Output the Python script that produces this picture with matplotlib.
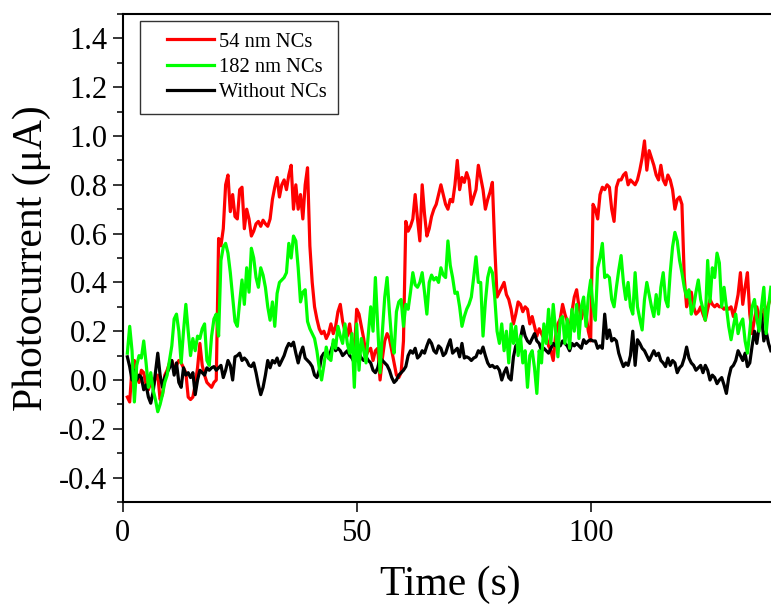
import matplotlib
matplotlib.use("Agg")
import matplotlib.pyplot as plt
from matplotlib.legend_handler import HandlerLine2D
from matplotlib.lines import Line2D
from matplotlib.ticker import MultipleLocator
import numpy as np

# time axis: one reading every 0.5 s from 1 s to 138.5 s
T_START = 1.0
T_STEP = 0.5

RED_54NM = [
    -0.07, -0.09, 0.05, 0.08, 0.02, -0.01, 0.04, 0.03, -0.02, -0.04,
    -0.01, -0.03, 0.01, 0.02, -0.08, -0.06, 0.02, 0.04, 0.07, 0.08,
    0.05, 0.06, 0.08, 0.07, 0.05, 0.03, -0.07, -0.08, -0.07, -0.02,
    0.05, 0.15, 0.06, 0.02, -0.01, -0.02, -0.03, -0.01, 0.00, 0.58,
    0.55, 0.62, 0.80, 0.84, 0.69, 0.76, 0.67, 0.66, 0.78, 0.79,
    0.62, 0.70, 0.66, 0.59, 0.61, 0.64, 0.65, 0.63, 0.655, 0.64,
    0.63, 0.66, 0.74, 0.79, 0.83, 0.75, 0.80, 0.82, 0.78, 0.84,
    0.88, 0.70, 0.80, 0.70, 0.76, 0.66, 0.80, 0.87, 0.55, 0.40,
    0.30, 0.25, 0.21, 0.19, 0.20, 0.17, 0.19, 0.23, 0.19, 0.22,
    0.28, 0.31, 0.24, 0.20, 0.18, 0.23, 0.16, 0.11, 0.29, 0.27,
    0.22, 0.17, 0.10, 0.12, 0.13, 0.08, 0.12, 0.13, 0.00, 0.09,
    0.16, 0.19, 0.17, 0.12, 0.07, 0.02, 0.01, 0.03, 0.16, 0.65,
    0.61, 0.63, 0.66, 0.76, 0.66, 0.57, 0.80, 0.68, 0.59, 0.62,
    0.67, 0.70, 0.72, 0.76, 0.80, 0.76, 0.72, 0.70, 0.74, 0.73,
    0.80, 0.90, 0.78, 0.83, 0.81, 0.85, 0.82, 0.72, 0.75, 0.78,
    0.88, 0.83, 0.78, 0.70, 0.74, 0.77, 0.81, 0.55, 0.34, 0.36,
    0.38, 0.40, 0.35, 0.33, 0.29, 0.23, 0.27, 0.32, 0.31, 0.28,
    0.30, 0.29, 0.23, 0.26, 0.22, 0.18, 0.21, 0.19, 0.17, 0.18,
    0.14, 0.12, 0.08, 0.18, 0.23, 0.25, 0.31, 0.27, 0.24, 0.20,
    0.28, 0.34, 0.37, 0.30, 0.25, 0.29, 0.27, 0.20, 0.16, 0.72,
    0.70, 0.66, 0.76, 0.79, 0.78, 0.80, 0.79, 0.70, 0.65, 0.79,
    0.82, 0.82, 0.84, 0.85, 0.80, 0.82, 0.81, 0.80, 0.82, 0.86,
    0.91, 0.98, 0.86, 0.94, 0.91, 0.88, 0.84, 0.82, 0.88, 0.82,
    0.80, 0.84, 0.82, 0.78, 0.70, 0.74, 0.75, 0.72, 0.42, 0.30,
    0.34, 0.36, 0.30, 0.27, 0.28, 0.30, 0.27, 0.245, 0.29, 0.33,
    0.31, 0.30, 0.31, 0.30, 0.30, 0.29, 0.30, 0.29, 0.30, 0.26,
    0.30, 0.35, 0.44, 0.31, 0.38, 0.44, 0.27, 0.19, 0.25, 0.30,
    0.26, 0.23, 0.29, 0.28, 0.31, 0.34,
]

GREEN_182NM = [
    0.11, 0.22, 0.12, -0.09, 0.06, 0.10, 0.09, 0.16, 0.07, -0.03,
    0.03, -0.04, -0.08, -0.13, -0.10, -0.06, -0.01, 0.02, 0.08, 0.14,
    0.25, 0.27, 0.20, 0.07, 0.20, 0.31, 0.20, 0.10, 0.17, 0.12,
    0.18, 0.17, 0.21, 0.23, 0.08, 0.06, 0.18, 0.25, 0.27, 0.18,
    0.49, 0.545, 0.56, 0.52, 0.44, 0.34, 0.24, 0.22, 0.32, 0.41,
    0.31, 0.46, 0.36, 0.54, 0.50, 0.42, 0.38, 0.46, 0.43, 0.38,
    0.30, 0.245, 0.32, 0.22, 0.355, 0.40, 0.41, 0.42, 0.44, 0.56,
    0.50, 0.59, 0.57, 0.46, 0.32, 0.36, 0.37, 0.24, 0.21, 0.19,
    0.17, 0.12, 0.05, 0.00, 0.06, 0.135, 0.09, 0.08, 0.165, 0.13,
    0.22, 0.18, 0.15, 0.23, 0.15, 0.11, 0.19, -0.03, 0.23, 0.04,
    0.17, 0.12, 0.07, 0.19, 0.30, 0.20, 0.42, 0.22, 0.03, 0.20,
    0.34, 0.42, 0.28, 0.16, 0.11, 0.28, 0.32, 0.33, 0.22, 0.31,
    0.29, 0.36, 0.44, 0.39, 0.38, 0.40, 0.44, 0.36, 0.27, 0.40,
    0.43, 0.41, 0.42, 0.40, 0.46, 0.43, 0.42, 0.57, 0.47, 0.42,
    0.355, 0.36, 0.30, 0.22, 0.26, 0.29, 0.31, 0.34, 0.42, 0.505,
    0.40, 0.40, 0.18, 0.32, 0.42, 0.46, 0.44, 0.34, 0.20, 0.15,
    0.23, 0.12, 0.20, 0.07, 0.23, 0.15, 0.22, 0.10, 0.18, 0.07,
    0.12, -0.03, 0.10, 0.12, 0.05, -0.055, 0.12, 0.07, 0.23, 0.15,
    0.29, 0.15, 0.31, 0.20, 0.095, 0.25, 0.26, 0.15, 0.25, 0.13,
    0.29, 0.20, 0.31, 0.17, 0.30, 0.34, 0.22, 0.34, 0.41, 0.30,
    0.245, 0.46, 0.50, 0.56, 0.42, 0.43, 0.42, 0.33, 0.30, 0.38,
    0.45, 0.51, 0.40, 0.33, 0.40, 0.30, 0.27, 0.44, 0.30, 0.25,
    0.205, 0.33, 0.40, 0.35, 0.30, 0.26, 0.35, 0.27, 0.38, 0.44,
    0.33, 0.30, 0.44, 0.545, 0.605, 0.57, 0.49, 0.44, 0.38, 0.34,
    0.37, 0.27, 0.30, 0.36, 0.41, 0.33, 0.29, 0.245, 0.49, 0.32,
    0.46, 0.42, 0.52, 0.48, 0.30, 0.38, 0.30, 0.22, 0.165, 0.22,
    0.27, 0.19, 0.23, 0.25, 0.16, 0.11, 0.20, 0.30, 0.33, 0.25,
    0.20, 0.30, 0.38, 0.19, 0.30, 0.38,
]

BLACK_BARE = [
    0.095, 0.055, 0.00, 0.04, 0.00, 0.02, 0.01, -0.04, -0.02, -0.07,
    -0.095, -0.05, 0.03, 0.11, 0.02, -0.03, 0.01, 0.03, 0.05, 0.08,
    0.02, 0.07, -0.01, -0.03, 0.05, 0.02, 0.03, 0.01, 0.03, -0.06,
    0.00, 0.04, 0.03, 0.02, 0.05, 0.04, 0.05, 0.055, 0.04, 0.05,
    0.06, 0.01, 0.04, 0.08, 0.06, 0.00, 0.095, 0.10, 0.11, 0.08,
    0.09, 0.08, 0.06, 0.055, 0.07, 0.03, -0.02, -0.06, -0.03, 0.02,
    0.08, 0.05, 0.08, 0.07, 0.09, 0.06, 0.08, 0.10, 0.13, 0.15,
    0.14, 0.155, 0.11, 0.07, 0.11, 0.135, 0.09, 0.08, 0.07, 0.055,
    0.02, 0.01, 0.04, 0.095, 0.11, 0.11, 0.09, 0.12, 0.15, 0.12,
    0.13, 0.12, 0.10, 0.11, 0.12, 0.10, 0.09, 0.07, 0.10, 0.11,
    0.09, 0.08, 0.095, 0.08, 0.07, 0.04, 0.03, 0.05, 0.09, 0.08,
    0.07, 0.06, 0.04, 0.01, -0.01, 0.00, 0.02, 0.03, 0.04, 0.055,
    0.10, 0.12, 0.11, 0.13, 0.09, 0.10, 0.12, 0.11, 0.14, 0.165,
    0.15, 0.12, 0.11, 0.14, 0.13, 0.10, 0.11, 0.14, 0.165, 0.11,
    0.12, 0.13, 0.095, 0.15, 0.09, 0.095, 0.09, 0.08, 0.09, 0.095,
    0.12, 0.11, 0.135, 0.10, 0.07, 0.055, 0.06, 0.05, 0.055, 0.04,
    0.00, 0.03, 0.05, 0.01, 0.00, 0.095, 0.14, 0.15, 0.17, 0.22,
    0.18, 0.16, 0.15, 0.17, 0.19, 0.16, 0.15, 0.12, 0.13, 0.12,
    0.11, 0.13, 0.15, 0.14, 0.15, 0.14, 0.16, 0.15, 0.14, 0.12,
    0.15, 0.14, 0.15, 0.14, 0.13, 0.165, 0.15, 0.16, 0.165, 0.16,
    0.16, 0.13, 0.14, 0.13, 0.27, 0.17, 0.205, 0.16, 0.17, 0.16,
    0.11, 0.08, 0.055, 0.07, 0.06, 0.10, 0.20, 0.06, 0.165, 0.15,
    0.13, 0.12, 0.10, 0.08, 0.10, 0.12, 0.10, 0.11, 0.08, 0.07,
    0.055, 0.09, 0.06, 0.08, 0.07, 0.03, 0.05, 0.06, 0.09, 0.135,
    0.09, 0.07, 0.06, 0.04, 0.05, 0.06, 0.03, 0.06, 0.04, 0.00,
    0.02, 0.01, -0.015, 0.00, 0.01, -0.02, -0.055, 0.01, 0.05, 0.06,
    0.08, 0.12, 0.10, 0.08, 0.11, 0.055, 0.07, 0.14, 0.20, 0.15,
    0.22, 0.27, 0.16, 0.20, 0.15, 0.12,
]

SERIES = [
    ("54 nm NCs", RED_54NM, "#ff0000"),
    ("182 nm NCs", GREEN_182NM, "#00ff00"),
    ("Without NCs", BLACK_BARE, "#000000"),
]
DRAW_ORDER = [0, 2, 1]  # green ends up on top

LINE_W = 2.3
FONT = ["Liberation Serif", "DejaVu Serif"]


class LeadLine(HandlerLine2D):
    """Legend line that leaves some blank space before the stroke."""

    def __init__(self, lead_em, **kw):
        super().__init__(**kw)
        self.lead_em = lead_em

    def create_artists(self, legend, orig_handle, xdescent, ydescent, width, height, fontsize, trans):
        artists = super().create_artists(legend, orig_handle, xdescent, ydescent, width, height, fontsize, trans)
        line = artists[0]
        xd = np.asarray(line.get_xdata(), dtype=float)
        xd[0] = xd[0] + self.lead_em * fontsize
        line.set_xdata(xd)
        return artists


def main() -> None:
    plt.rcParams["font.family"] = FONT
    plt.rcParams["axes.unicode_minus"] = False

    n = len(RED_54NM)
    time_s = T_START + T_STEP * np.arange(n)

    fig = plt.figure(figsize=(7.71, 6.06), dpi=100)
    ax = fig.add_axes([0.1591, 0.1716, 0.8498, 0.8053])

    for idx in DRAW_ORDER:
        label, values, color = SERIES[idx]
        ax.plot(time_s[: len(values)], values, color=color, linewidth=LINE_W)

    ax.set_xlim(0, 140)
    ax.set_ylim(-0.5, 1.5)
    ax.set_xticks([0, 50, 100])
    yticks = np.round(np.arange(-0.4, 1.41, 0.2), 1)
    ax.set_yticks(yticks)
    ax.set_yticklabels([f"{v:.1f}" for v in yticks])
    ax.yaxis.set_minor_locator(MultipleLocator(0.1))

    ax.tick_params(axis="both", which="major", direction="out", length=7, width=1.1,
                   labelsize=22, colors="black")
    ax.tick_params(axis="y", which="major", pad=4)
    ax.tick_params(axis="x", which="major", pad=5.5)
    ax.tick_params(axis="y", which="minor", direction="out", length=4.5, width=1.1)
    ax.tick_params(top=False, right=False)
    for spine in ax.spines.values():
        spine.set_linewidth(1.5)

    ax.set_xlabel("Time (s)", fontsize=30, labelpad=12)
    ax.set_ylabel("Photocurrent (\u03bcA)", fontsize=30, labelpad=6)

    handles = [Line2D([], [], color=c, linewidth=LINE_W) for _, _, c in SERIES]
    labels = [lab for lab, _, _ in SERIES]
    leg = ax.legend(
        handles,
        labels,
        loc="upper left",
        bbox_to_anchor=(0.0264, 0.9857),
        borderaxespad=0,
        fontsize=14.8,
        frameon=True,
        fancybox=False,
        edgecolor="#333333",
        framealpha=1,
        borderpad=0.55,
        labelspacing=0.29,
        handlelength=3.04,
        handletextpad=0.25,
        handler_map={Line2D: LeadLine(0.76)},
    )
    leg.get_frame().set_linewidth(1.0)

    fig.savefig("out.png", dpi=100)
    plt.close(fig)


if __name__ == "__main__":
    main()
